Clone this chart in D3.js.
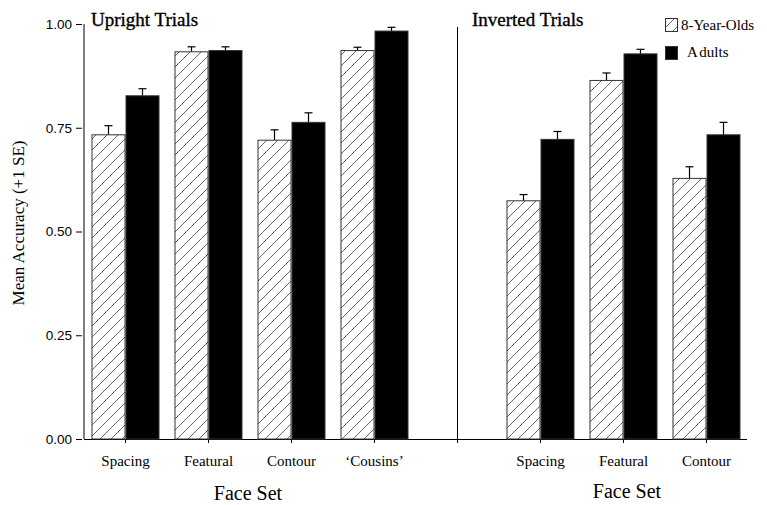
<!DOCTYPE html>
<html>
<head>
<meta charset="utf-8">
<script src="https://cdn.jsdelivr.net/npm/d3@7/dist/d3.min.js"></script>
<style>
  body { margin: 0; background: #fff; }
  svg { display: block; }
  text { font-family: "Liberation Serif", "Times New Roman", serif; fill: #000; }
</style>
</head>
<body>
<svg id="chart" width="767" height="505"></svg>
<script>
// Face sets per panel; the empty slot between panels holds the divider
const slots = ["Spacing", "Featural", "Contour", "\u2018Cousins\u2019", "", "Spacing ", "Featural ", "Contour "];
const slotLabels = ["Spacing", "Featural", "Contour", "\u2018Cousins\u2019", "", "Spacing", "Featural", "Contour"];
const barSlots = [0, 1, 2, 3, 5, 6, 7];
const groups = ["8-Year-Olds", "Adults"];
// Mean accuracy and +1 SE
const childMean = [0.733, 0.933, 0.720, 0.936, 0.574, 0.864, 0.628];
const childSE   = [0.022, 0.012, 0.025, 0.008, 0.015, 0.018, 0.028];
const adultMean = [0.827, 0.936, 0.763, 0.983, 0.722, 0.928, 0.733];
const adultSE   = [0.017, 0.009, 0.023, 0.009, 0.019, 0.011, 0.030];
const yTicks = [0, 0.25, 0.5, 0.75, 1.0];

const svg = d3.select("#chart");
const x0 = 84, x1 = 748, yTop = 24, yBot = 439;

const x = d3.scaleBand().domain(slots).range([x0, x1]).paddingInner(0).paddingOuter(0);
const y = d3.scaleLinear().domain([0, 1]).range([yBot, yTop]);
const barW = 34;

// Hatch fill for the children's bars
const defs = svg.append("defs");
const pat = defs.append("pattern")
  .attr("id", "hatch").attr("patternUnits", "userSpaceOnUse")
  .attr("width", 11).attr("height", 11);
pat.append("rect").attr("width", 11).attr("height", 11).attr("fill", "#fff");
pat.append("path").attr("d", "M0,11 L11,0 M-2,2 L2,-2 M9,13 L13,9")
  .attr("stroke", "#555").attr("stroke-width", 0.9);

// Axes
const yAxis = d3.axisLeft(y).tickValues(yTicks).tickFormat(d3.format(".2f"))
  .tickSize(6).tickPadding(4);
const gy = svg.append("g").attr("transform", `translate(${x0 - 2},0)`).call(yAxis);
gy.select(".domain").remove();
gy.selectAll(".tick line").attr("stroke", "#000");
gy.selectAll(".tick text").style("font-family", "'Liberation Sans Narrow', 'Liberation Sans', sans-serif")
  .style("font-size", "13.5px").attr("fill", "#000");
svg.append("line").attr("x1", x0).attr("x2", x0).attr("y1", yTop).attr("y2", yBot)
  .attr("stroke", "#000").attr("stroke-width", 1);

const xAxis = d3.axisBottom(x).tickFormat((d, i) => slotLabels[i]).tickSize(4).tickPadding(12);
const gx = svg.append("g").attr("transform", `translate(0,${yBot})`).call(xAxis);
gx.select(".domain").attr("d", `M${x0},0.5H${x1 - 1}`).attr("stroke", "#000");
gx.selectAll(".tick line").attr("stroke", "#000");
gx.selectAll(".tick text").style("font-family", "'Liberation Serif', serif")
  .style("font-size", "15px").attr("fill", "#000");

// Panel divider
svg.append("line")
  .attr("x1", x(slots[4]) + x.bandwidth() / 2).attr("x2", x(slots[4]) + x.bandwidth() / 2)
  .attr("y1", 27).attr("y2", yBot).attr("stroke", "#000");

// Bars and error bars
const rows = barSlots.map((s, i) => ({ slot: slots[s], child: childMean[i], childSE: childSE[i], adult: adultMean[i], adultSE: adultSE[i] }));
const bars = [];
rows.forEach(r => {
  const c = x(r.slot) + x.bandwidth() / 2;
  bars.push({ x: c - barW, v: r.child, se: r.child + r.childSE, fill: "url(#hatch)" });
  bars.push({ x: c, v: r.adult, se: r.adult + r.adultSE, fill: "#000" });
});

const gb = svg.append("g");
gb.selectAll("line.err").data(bars).join("line").attr("class", "err")
  .attr("x1", d => d.x + barW / 2).attr("x2", d => d.x + barW / 2)
  .attr("y1", d => y(d.v)).attr("y2", d => y(d.se)).attr("stroke", "#000").attr("stroke-width", 1.2);
gb.selectAll("line.cap").data(bars).join("line").attr("class", "cap")
  .attr("x1", d => d.x + barW / 2 - 4).attr("x2", d => d.x + barW / 2 + 4)
  .attr("y1", d => y(d.se)).attr("y2", d => y(d.se)).attr("stroke", "#000").attr("stroke-width", 1.2);
gb.selectAll("rect").data(bars).join("rect")
  .attr("x", d => d.x + 0.5).attr("width", barW - 1)
  .attr("y", d => y(d.v)).attr("height", d => yBot - y(d.v))
  .attr("fill", d => d.fill).attr("stroke", "#333").attr("stroke-width", 1);

// Panel titles
[["Upright Trials", 91], ["Inverted Trials", 472]].forEach(([t, tx]) => {
  svg.append("text").attr("x", tx).attr("y", 26).style("font-size", "19px")
    .attr("stroke", "#000").attr("stroke-width", 0.35).text(t);
});

// Legend
const lg = svg.append("g");
const legendFill = ["url(#hatch)", "#000"];
groups.forEach((g, i) => {
  lg.append("rect").attr("x", 665.5).attr("y", 18.5 + i * 28).attr("width", 12).attr("height", 13)
    .attr("fill", legendFill[i]).attr("stroke", "#333");
  const t = lg.append("text").attr("x", 681 + (i ? 6 : 0)).attr("y", 30 + i * 27).style("font-size", "15px");
  if (i === 1) {
    t.append("tspan").text(g[0]);
    t.append("tspan").attr("dx", 1.5).text(g.slice(1));
  } else {
    t.text(g);
  }
});

// Axis titles
svg.append("text").attr("transform", "translate(24,223) rotate(-90)").attr("text-anchor", "middle")
  .style("font-size", "17px").text("Mean Accuracy (+1 SE)");
svg.append("text").attr("x", 248).attr("y", 500).attr("text-anchor", "middle")
  .style("font-size", "20px").text("Face Set");
svg.append("text").attr("x", 627).attr("y", 498).attr("text-anchor", "middle")
  .style("font-size", "20px").text("Face Set");
</script>
</body>
</html>
